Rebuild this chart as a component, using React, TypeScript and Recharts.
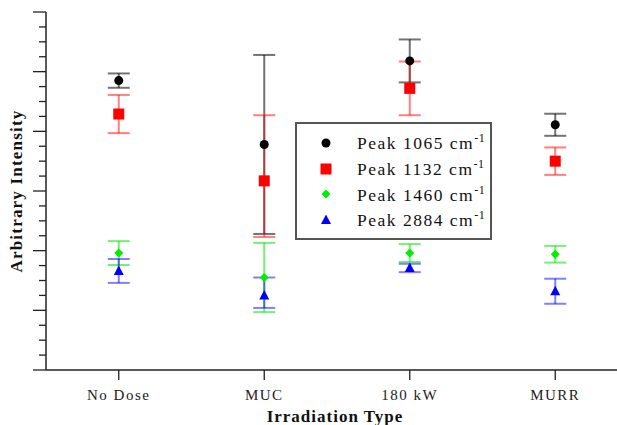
import React from 'react';
import { ScatterChart, Scatter, XAxis, YAxis, ErrorBar } from 'recharts';

const categories = ['No Dose', 'MUC', '180 kW', 'MURR'];

const peak1065 = [4.85, 3.78, 5.18, 4.11];
const peak1065Err: (number | number[])[] = [0.12, 1.5, 0.36, 0.185];

const peak1132 = [4.29, 3.17, 4.72, 3.5];
const peak1132Err: (number | number[])[] = [0.32, [0.94, 1.1], 0.45, 0.23];

const peak1460 = [1.96, 1.55, 1.96, 1.94];
const peak1460Err: (number | number[])[] = [0.2, 0.58, 0.15, 0.14];

const peak2884 = [1.66, 1.25, 1.71, 1.32];
const peak2884Err: (number | number[])[] = [0.2, [0.21, 0.3], 0.07, 0.21];

const yTicks = Array.from({ length: 25 }, (_, i) => i * 0.25);
const xTicks = [1, 2, 3, 4];

const FONT = '"Liberation Serif", "DejaVu Serif", serif';

const build = (vals: number[], errs: (number | number[])[]) =>
  vals.map((v, i) => ({ x: i + 1, y: v, err: errs[i] }));

const Circle = (p: any) => <circle cx={p.cx} cy={p.cy} r={4.5} fill="#000000" />;
const Square = (p: any) => <rect x={p.cx - 5.5} y={p.cy - 5.5} width={11} height={11} fill="#ff0000" />;
const Diamond = (p: any) => (
  <polygon points={`${p.cx},${p.cy - 4.5} ${p.cx + 4.5},${p.cy} ${p.cx},${p.cy + 4.5} ${p.cx - 4.5},${p.cy}`} fill="#00ee00" />
);
const Triangle = (p: any) => (
  <polygon points={`${p.cx},${p.cy - 5.5} ${p.cx + 5},${p.cy + 4} ${p.cx - 5},${p.cy + 4}`} fill="#0000ff" />
);

const series = [
  { name: 'Peak 1065 cm', data: build(peak1065, peak1065Err), shape: Circle, err: 'rgba(0,0,0,0.55)' },
  { name: 'Peak 1132 cm', data: build(peak1132, peak1132Err), shape: Square, err: 'rgba(255,0,0,0.5)' },
  { name: 'Peak 1460 cm', data: build(peak1460, peak1460Err), shape: Diamond, err: 'rgba(0,230,0,0.55)' },
  { name: 'Peak 2884 cm', data: build(peak2884, peak2884Err), shape: Triangle, err: 'rgba(0,0,255,0.5)' },
];

const YTick = (props: any) => {
  const { x, y, payload } = props;
  const major = Math.abs(payload.value - Math.round(payload.value)) < 1e-6;
  const len = major ? 13 : 7;
  return <line x1={x - len} x2={x} y1={y} y2={y} stroke="#222" strokeWidth={1.3} />;
};

const LegendBox = () => (
  <div
    style={{
      position: 'absolute',
      left: 295,
      top: 122,
      boxSizing: 'border-box',
      width: 197,
      height: 118,
      border: '2px solid #555',
      background: '#fff',
      paddingTop: 6,
      fontFamily: FONT,
      fontSize: 17.5,
      letterSpacing: 1.5,
      color: '#111',
    }}
  >
    {series.map((s, i) => {
      const Shape = s.shape;
      return (
        <div key={i} style={{ height: 25.7, display: 'flex', alignItems: 'center' }}>
          <svg width={14} height={14} style={{ marginLeft: 22, marginRight: 24 }}>
            <Shape cx={7} cy={7} />
          </svg>
          <span style={{ whiteSpace: 'nowrap' }}>
            {s.name}
            <sup style={{ fontSize: 12, letterSpacing: 0.5 }}>-1</sup>
          </span>
        </div>
      );
    })}
  </div>
);

const XLabel = (props: any) => {
  const vb = props.viewBox || {};
  return (
    <text
      x={vb.x + vb.width / 2 - 2}
      y={vb.y + 52}
      textAnchor="middle"
      fontFamily={FONT}
      fontWeight="bold"
      fontSize={17}
      letterSpacing={1}
      fill="#111"
    >
      Irradiation Type
    </text>
  );
};

const YLabel = (props: any) => {
  const vb = props.viewBox || {};
  const cx = vb.x + 22;
  const cy = vb.y + vb.height / 2;
  return (
    <text
      x={cx}
      y={cy}
      transform={`rotate(-90, ${cx}, ${cy})`}
      textAnchor="middle"
      fontFamily={FONT}
      fontWeight="bold"
      fontSize={17}
      letterSpacing={1.2}
      fill="#111"
    >
      Arbitrary Intensity
    </text>
  );
};

export default function App() {
  return (
    <div style={{ position: 'absolute', left: 0, top: 0, width: 617, height: 425, overflow: 'hidden', background: '#fff' }}>
      <ScatterChart width={640} height={425} margin={{ top: 12, right: 12, bottom: 0, left: 0 }}>
        <XAxis
          xAxisId={0}
          type="number"
          dataKey="x"
          domain={[0.5, 4.5]}
          ticks={xTicks}
          tickFormatter={(v: number) => categories[v - 1]}
          height={55}
          tickSize={10}
          tickMargin={9}
          axisLine={{ stroke: '#222', strokeWidth: 1.5 }}
          tickLine={{ stroke: '#222', strokeWidth: 1.3 }}
          tick={{ fontFamily: FONT, fontSize: 15, fill: '#222', letterSpacing: 1.5 }}
          interval={0}
          label={<XLabel />}
        />
        <XAxis
          xAxisId="top"
          orientation="top"
          type="number"
          domain={[0.5, 4.5]}
          height={0}
          tick={false}
          tickLine={false}
          axisLine={{ stroke: '#222', strokeWidth: 1.5 }}
        />
        <YAxis
          yAxisId={0}
          type="number"
          dataKey="y"
          domain={[0, 6]}
          ticks={yTicks}
          interval={0}
          width={46}
          tickSize={0}
          tickMargin={0}
          tickLine={false}
          tick={<YTick />}
          axisLine={{ stroke: '#222', strokeWidth: 1.5 }}
          label={<YLabel />}
        />
        {series.map((s, i) => (
          <Scatter key={i} name={s.name} data={s.data} shape={s.shape} isAnimationActive={false}>
            <ErrorBar dataKey="err" direction="y" width={11} strokeWidth={2} stroke={s.err} />
          </Scatter>
        ))}
      </ScatterChart>
      <LegendBox />
    </div>
  );
}
